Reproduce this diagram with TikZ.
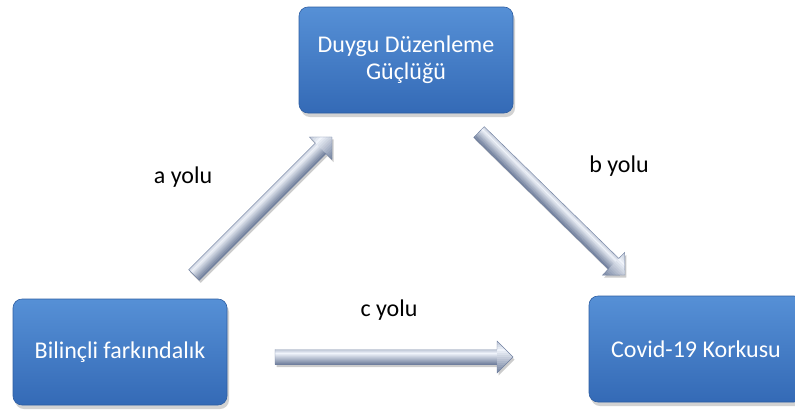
\documentclass[tikz,border=0pt]{standalone}
\usepackage{fontspec}
\setmainfont{Carlito}
\usetikzlibrary{shadows,calc}

\definecolor{boxtop}{RGB}{86,144,214}
\definecolor{boxbot}{RGB}{52,106,182}
\definecolor{boxedge}{RGB}{46,94,162}
\definecolor{tubeA}{RGB}{100,116,148}
\definecolor{tubeE}{RGB}{240,244,251}
\definecolor{tubeedge}{RGB}{112,128,160}

% outline of a block arrow of length \arrlen lying along the x axis
\newcommand\arrowoutline{(0,-7.5) -- (\arrlen-16,-7.5) -- (\arrlen-16,-16)
  -- (\arrlen,0) -- (\arrlen-16,16) -- (\arrlen-16,7.5) -- (0,7.5) -- cycle}

\begin{document}
\begin{tikzpicture}[x=1pt,y=-1pt,
  stepbox/.style={rectangle, rounded corners=9pt, minimum width=214pt,
    minimum height=106pt, top color=boxtop, bottom color=boxbot,
    draw=boxedge, line width=0.6pt, text=white, align=center,
    font=\fontsize{24}{27}\selectfont,
    drop shadow={shadow xshift=2pt, shadow yshift=-4pt, opacity=0.35}},
  pathlabel/.style={font=\fontsize{24}{27}\selectfont, text=black}]

\clip (0,0) rectangle (795,410);
\fill[white] (0,0) rectangle (795,410);

% boxes
\node[stepbox] (ddg) at (406,60) {Duygu Düzenleme\\Güçlüğü};
\node[stepbox] (bf)  at (120,352) {Bilinçli farkındalık};
\node[stepbox] (cov) at (696,349) {Covid-19 Korkusu};

% ends of the block arrows
\coordinate (aS) at (194,275);
\coordinate (aE) at (332,137);
\coordinate (bS) at (479,132);
\coordinate (bE) at (625,275);
\coordinate (cS) at (275,357);
\coordinate (cE) at (513,357);

% block arrows: built level from their start point, then turned towards
% their end; thin strips give the bevelled cross profile
\foreach \s/\e in {aS/aE, bS/bE, cS/cE}{
  \path let \p1=($(\e)-(\s)$) in
    \pgfextra{\pgfmathsetmacro\arrangtmp{atan2(\y1,\x1)}%
              \pgfmathsetmacro\arrlentmp{veclen(\x1,\y1)}%
              \xdef\arrang{\arrangtmp}\xdef\arrlen{\arrlentmp}};
  % soft shadow below and to the right
  \begin{scope}[shift={(\s)}, xshift=1.5pt, yshift=-2.5pt, rotate=\arrang]
    \fill[black, opacity=0.2] \arrowoutline;
  \end{scope}
  \begin{scope}[shift={(\s)}, rotate=\arrang]
    % shaft
    \foreach \yy in {-7.5,-6.5,...,6.5}{
      \pgfmathsetmacro\tq{(\yy+7.5)/15}
      \pgfmathsetmacro\pc{\tq<0.2 ? 70+150*\tq : 100-100*(\tq-0.2)/0.8}
      \fill[tubeE!\pc!tubeA] (0,\yy) rectangle (\arrlen-15.5,\yy+1.05);
    }
    % head
    \begin{scope}
      \clip (\arrlen-16,-16) -- (\arrlen,0) -- (\arrlen-16,16) -- cycle;
      \foreach \yy in {-16,-14,...,14}{
        \pgfmathsetmacro\tq{(\yy+16)/32}
        \pgfmathsetmacro\pc{\tq<0.25 ? 65+140*\tq : 100-95*(\tq-0.25)/0.75}
        \fill[tubeE!\pc!tubeA] (\arrlen-16.5,\yy) rectangle (\arrlen+0.5,\yy+2.1);
      }
    \end{scope}
    \draw[tubeedge, line width=0.4pt] \arrowoutline;
  \end{scope}
}

% path labels
\node[pathlabel] (la) at (183,177) {a yolu};
\node[pathlabel] (lb) at (619,166) {b yolu};
\node[pathlabel] (lc) at (389,310) {c yolu};
\end{tikzpicture}
\end{document}
